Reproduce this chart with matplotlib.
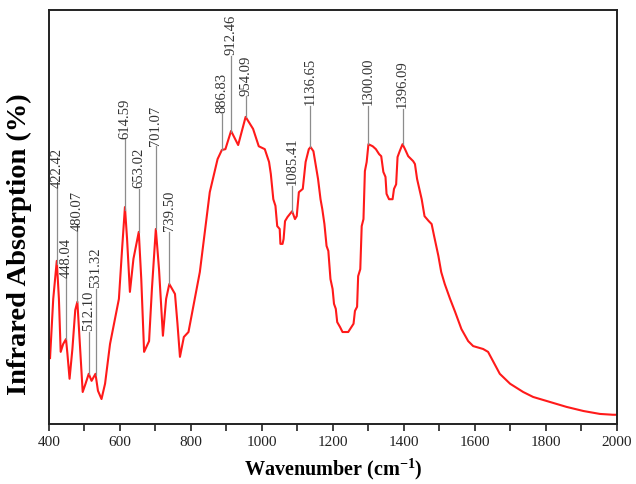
import numpy as np
import matplotlib
matplotlib.use('Agg')
import matplotlib.pyplot as plt
from matplotlib.ticker import MultipleLocator

# spectrum (wavenumber, relative absorption)
wavenumber = [403, 412, 422, 428, 433, 440, 448, 452, 458, 466, 474, 480, 488, 495,
              503, 512, 520, 531, 538, 548, 558, 572, 586, 597, 606, 614, 620, 628,
              638, 653, 660, 668, 682, 690, 701, 710, 721, 730, 739, 755, 762, 769,
              780, 793, 825, 853, 875, 887, 897, 913, 933, 954, 975, 991, 1008, 1020,
              1025, 1032, 1038, 1043, 1050, 1052, 1058, 1061, 1065, 1072, 1085, 1093,
              1098, 1104, 1115, 1123, 1132, 1137, 1145, 1158, 1165, 1170, 1176, 1182,
              1187, 1193, 1199, 1203, 1208, 1212, 1220, 1227, 1243, 1252, 1258, 1262,
              1268, 1271, 1277, 1281, 1286, 1290, 1295, 1300, 1312, 1321, 1330, 1336,
              1342, 1348, 1351, 1358, 1368, 1372, 1378, 1382, 1388, 1396, 1403, 1412,
              1426, 1431, 1437, 1450, 1458, 1470, 1478, 1485, 1497, 1505, 1515, 1530,
              1544, 1562, 1581, 1595, 1623, 1637, 1652, 1670, 1699, 1736, 1764, 1811,
              1858, 1906, 1952, 1989, 2000]
absorption = [15.9, 30.2, 39.4, 30.2, 17.4, 19.3, 20.5, 16.9, 10.9, 18.1, 27.5, 29.5, 18.1, 7.7,
              9.7, 12.1, 10.4, 12.1, 8.0, 6.0, 9.7, 19.3, 25.4, 30.2, 42.3, 52.4, 44.7, 31.9,
              39.9, 46.4, 35.0, 17.4, 20.0, 32.6, 47.1, 37.4, 21.3, 30.2, 33.8, 31.4, 24.2, 16.2,
              21.0, 22.2, 36.7, 56.0, 64.0, 66.2, 66.4, 70.8, 67.4, 74.2, 71.3, 67.1, 66.4, 63.3,
              60.4, 54.3, 52.7, 47.8, 47.1, 43.5, 43.5, 44.7, 49.0, 50.0, 51.4, 49.5,
              50.2, 56.0, 56.8, 63.3, 66.4, 66.9, 65.9, 59.2, 54.3, 51.9, 48.3, 43.0,
              41.8, 35.0, 32.6, 29.0, 27.8, 24.6, 23.4, 22.2, 22.2, 23.4, 24.2, 27.3,
              28.3, 35.7, 37.4, 47.8, 49.5, 61.1, 63.3, 67.6, 67.1, 66.4, 65.2, 64.7,
              60.9, 59.7, 55.6, 54.3, 54.3, 56.8, 57.9, 64.5, 65.9, 67.6, 66.4, 64.7,
              63.5, 62.8, 59.2, 54.3, 50.2, 49.0, 48.3, 45.4, 40.6, 36.7, 33.8, 30.2,
              27.1, 22.9, 20.0, 18.8, 18.1, 17.4, 15.0, 12.1, 9.7, 7.7, 6.5, 5.3,
              4.1, 3.1, 2.4, 2.2, 2.2]

peak_labels = ['422.42', '448.04', '480.07', '512.10', '531.32', '614.59', '653.02',
               '701.07', '739.50', '886.83', '912.46', '954.09', '1085.41', '1136.65',
               '1300.00', '1396.09']
# height where each label starts
label_y = [56.8, 35.0, 46.4, 22.2, 32.6, 68.8, 56.8, 67.1, 46.4, 74.9, 88.9, 79.2,
           57.5, 76.8, 76.8, 76.1]

plt.rcParams['font.family'] = ['Liberation Serif', 'DejaVu Serif']

fig = plt.figure(figsize=(6.36, 4.85), dpi=100)
ax = fig.add_axes([0.077, 0.124, 0.893, 0.853])

ax.plot(wavenumber, absorption, color='#ff1a1a', lw=1.5)

for lab, ly in zip(peak_labels, label_y):
    w = float(lab)
    py = np.interp(w, wavenumber, absorption)
    ax.plot([w, w], [py, ly], color='#8c8c8c', lw=0.9)
    ax.text(w, ly + 0.4, lab, rotation=90, ha='center', va='bottom',
            fontsize=10.5, color='#333333')

ax.set_xlim(400, 2000)
ax.set_ylim(0, 100)
ax.xaxis.set_major_locator(MultipleLocator(200))
ax.xaxis.set_minor_locator(MultipleLocator(100))
ax.tick_params(axis='x', which='both', direction='out', length=5, width=1.2,
               labelsize=11, pad=3, colors='#222222')
ax.set_yticks([])
for s in ax.spines.values():
    s.set_linewidth(1.4)
    s.set_color('#222222')

ax.set_xlabel('Wavenumber (cm$^{\\mathregular{-1}}$)', fontsize=14.5,
              fontweight='bold', labelpad=5)
ax.set_ylabel('Infrared Absorption (%)', fontsize=20.5, fontweight='bold')
ax.yaxis.set_label_coords(-0.03, 0.437)

fig.savefig('out.png', dpi=100)
